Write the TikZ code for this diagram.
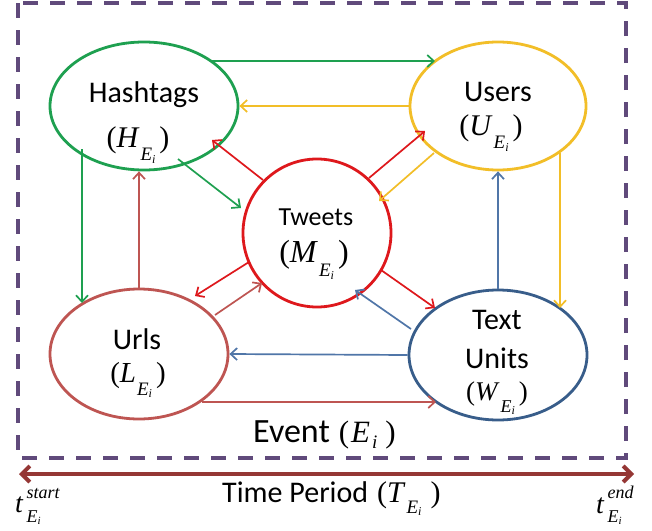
\documentclass[tikz,border=0pt]{standalone}
\usepackage{fontspec}
\setmainfont{Carlito}
\newfontfamily\tnr{Liberation Serif}
\usetikzlibrary{shapes.geometric,arrows.meta,calc}
\definecolor{cgreen}{RGB}{30,160,80}
\definecolor{cyellow}{RGB}{242,190,40}
\definecolor{cred}{RGB}{222,24,28}
\definecolor{cbrown}{RGB}{190,85,82}
\definecolor{cblue}{RGB}{56,93,138}
\definecolor{cbluea}{RGB}{80,118,168}
\definecolor{cpurple}{RGB}{96,74,123}
\definecolor{ctime}{RGB}{149,55,53}
% letter with subscript E_i, in parentheses
\newcommand\emath[4]{{\tnr\fontsize{#2}{#2}\selectfont(\textit{#1}\kern1pt\raisebox{-0.45em}{\fontsize{#3}{#3}\selectfont\textit{E}}\raisebox{-0.55em}{\fontsize{#4}{#4}\selectfont\textit{i}}\kern4pt)}}
\begin{document}
\begin{tikzpicture}[x=1pt,y=-1pt,
  ell/.style={ellipse, line width=2.8pt, inner sep=0pt},
  lbl/.style={anchor=base, inner sep=0pt, font=\fontsize{30}{30}\selectfont},
  mlbl/.style={anchor=base, inner sep=0pt},
  arr/.style={-{Straight Barb[length=6.5pt,width=12pt]}, line width=1.7pt},
  dashbox/.style={draw=cpurple, line width=3.6pt, dash pattern=on 15pt off 12pt},
  timearr/.style={{Straight Barb[length=8pt,width=16pt]}-{Straight Barb[length=8pt,width=16pt]}, line width=4pt, draw=ctime}]
\useasboundingbox (0,0) rectangle (652,530);
\fill[white] (0,0) rectangle (652,530);
% event box
\draw[dashbox] (18,3) rectangle (626,458);
% entity nodes
\node[ell, draw=cgreen, minimum width=188pt, minimum height=128pt] (H) at (144,106) {};
\node[ell, draw=cyellow, minimum width=176pt, minimum height=128pt] (U) at (498,106) {};
\node[circle, line width=2.8pt, inner sep=0pt, draw=cred, minimum size=148pt] (T) at (317,233) {};
\node[ell, draw=cbrown, minimum width=178pt, minimum height=130pt] (L) at (139,354) {};
\node[ell, draw=cblue, minimum width=178pt, minimum height=130pt] (W) at (498,355) {};
% connectors
\draw[arr, cgreen] ($(H)+(68,-45)$) -- ($(U)+(-63,-45)$);
\draw[arr, cyellow] (U.west) -- (H.east);
\draw[arr, cred] ($(T)+(-54,-53)$) -- ($(H)+(68,34)$);
\draw[arr, cgreen] ($(H)+(34,53)$) -- ($(T)+(-76,-25)$);
\draw[arr, cred] ($(T)+(52,-55)$) -- ($(U)+(-73,25)$);
\draw[arr, cyellow] ($(U)+(-64,47)$) -- ($(T)+(62,-32)$);
\draw[arr, cgreen] ($(H)+(-62,43)$) -- ($(L)+(-57,-51)$);
\draw[arr, cbrown] (L.north) -- (L.north |- H.south);
\draw[arr, cbluea] (W.north) -- (W.north |- U.south);
\draw[arr, cyellow] ($(U)+(62,47)$) -- ($(W)+(62,-47)$);
\draw[arr, cred] ($(T)+(-68,29)$) -- ($(L)+(56,-58)$);
\draw[arr, cbrown] ($(L)+(76,-39)$) -- ($(T)+(-55,50)$);
\draw[arr, cred] ($(T)+(64,37)$) -- ($(W)+(-63,-47)$);
\draw[arr, cbluea] ($(W)+(-87,-26)$) -- ($(T)+(38,57)$);
\draw[arr, cbluea] (W.west) -- (L.east);
\draw[arr, cbrown] ($(L)+(63,48)$) -- ($(W)+(-62,47)$);
% labels
\node[lbl] (Ht) at (144,102) {Hashtags};
\node[mlbl] (Hm) at (138,147) {\emath{H}{30}{19}{12}};
\node[lbl] (Ut) at (498,101) {Users};
\node[mlbl] (Um) at (491,135) {\emath{U}{30}{19}{12}};
\node[lbl, font=\fontsize{26}{26}\selectfont] (Tt) at (316,225) {Tweets};
\node[mlbl] (Tm) at (314,262) {\emath{M}{32}{19}{12}};
\node[lbl] (Lt) at (137,349) {Urls};
\node[mlbl] (Lm) at (138,382) {\emath{L}{29}{19}{12}};
\node[lbl] (Wt1) at (497,329) {Text};
\node[lbl] (Wt2) at (497,368) {Units};
\node[mlbl] (Wm) at (497,400) {\emath{W}{27}{18}{12}};
\node[anchor=base west, inner sep=0pt] (ev) at (253,442) {\fontsize{34}{34}\selectfont Event\hspace{9pt}{\tnr\fontsize{31}{31}\selectfont(\kern2pt\textit{E}\kern2pt\raisebox{-6pt}{\fontsize{19}{19}\selectfont\textit{i}}\kern8pt)}};
% time period
\coordinate (tl) at (19,474);
\coordinate (tr) at (634,474);
\draw[timearr] (tl) -- (tr);
\node[anchor=base west, inner sep=0pt] (tp) at (222,502) {\fontsize{30}{30}\selectfont Time Period\hspace{9pt}{\tnr\fontsize{30}{30}\selectfont(\textit{T}\kern1pt\raisebox{-11pt}{\fontsize{19}{19}\selectfont\textit{E}}\raisebox{-13pt}{\fontsize{12}{12}\selectfont\textit{i}}\kern9pt)}};
\node[anchor=base west, inner sep=0pt] (ts) at (15,512) {\tnr\fontsize{28}{28}\selectfont\textit{t}\kern3pt\rlap{\raisebox{14pt}{\fontsize{18}{18}\selectfont\textit{start}}}\raisebox{-10pt}{\fontsize{18}{18}\selectfont\textit{E}\raisebox{-2pt}{\fontsize{11}{11}\selectfont\textit{i}}}};
\node[anchor=base west, inner sep=0pt] (te) at (596,513) {\tnr\fontsize{28}{28}\selectfont\textit{t}\kern3pt\rlap{\raisebox{15pt}{\fontsize{18}{18}\selectfont\textit{end}}}\raisebox{-9pt}{\fontsize{18}{18}\selectfont\textit{E}\raisebox{-2pt}{\fontsize{11}{11}\selectfont\textit{i}}}};
\end{tikzpicture}
\end{document}
